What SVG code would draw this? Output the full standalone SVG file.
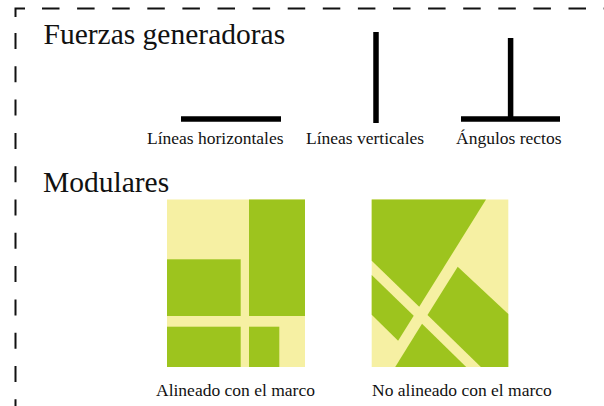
<svg xmlns="http://www.w3.org/2000/svg" width="604" height="406" viewBox="0 0 604 406">
  <style>
    .head { font-family: "Liberation Serif", "Times New Roman", serif; font-size: 29.5px; fill: #111; }
    .lbl { font-family: "Liberation Serif", "Times New Roman", serif; font-size: 17.5px; fill: #111; }
    .frame { fill: none; stroke: #111; stroke-width: 2; }
    .bar { stroke: #000; stroke-width: 5.5; fill: none; stroke-linecap: butt; }
    .pale { fill: #F6F0A3; }
    .green { fill: #9DC41E; }
  </style>
  <rect width="604" height="406" fill="#ffffff"/>
  <g id="border">
    <path class="frame" d="M15.5,17 V8.5 H25"/>
    <path class="frame" d="M42,8.5 H604" stroke-dasharray="17.5 17.6"/>
    <path class="frame" d="M15.5,33 V406" stroke-dasharray="16 17.3"/>
  </g>
  <g id="title-fuerzas">
    <text class="head" x="43.5" y="43.5">Fuerzas generadoras</text>
  </g>
  <g id="lineas-horizontales">
    <path class="bar" d="M181,119 H281"/>
    <text class="lbl" x="147" y="144">Líneas horizontales</text>
  </g>
  <g id="lineas-verticales">
    <path class="bar" d="M376,32 V123"/>
    <text class="lbl" x="306" y="144">Líneas verticales</text>
  </g>
  <g id="angulos-rectos">
    <path class="bar" d="M461,119 H560 M510.6,38 V119"/>
    <text class="lbl" x="456" y="144">Ángulos rectos</text>
  </g>
  <g id="title-modulares">
    <text class="head" x="43" y="191.5">Modulares</text>
  </g>
  <g id="alineado">
    <rect class="pale" x="167" y="199.5" width="138" height="167.5"/>
    <rect class="green" x="249" y="199.5" width="56" height="116.5"/>
    <rect class="green" x="167" y="259.3" width="73.7" height="56.7"/>
    <rect class="green" x="167" y="326.7" width="73.7" height="40.3"/>
    <rect class="green" x="249" y="326.7" width="30.3" height="40.3"/>
    <text class="lbl" x="156" y="396">Alineado con el marco</text>
  </g>
  <g id="no-alineado">
    <rect class="pale" x="371.7" y="199.5" width="136.6" height="167.5"/>
    <polygon class="green" points="371.7,199.5 486,199.5 419.2,306.8 371.7,260.7"/>
    <polygon class="green" points="371.7,275 413.7,315.8 398.1,340.7 371.7,314.8"/>
    <polygon class="green" points="457.7,266.7 508.3,314 508.3,367 480.9,367 427.5,314.9"/>
    <polygon class="green" points="422,323.8 395.2,367 466.2,367"/>
    <text class="lbl" x="372" y="396">No alineado con el marco</text>
  </g>
  <g id="connectors"/>
</svg>
